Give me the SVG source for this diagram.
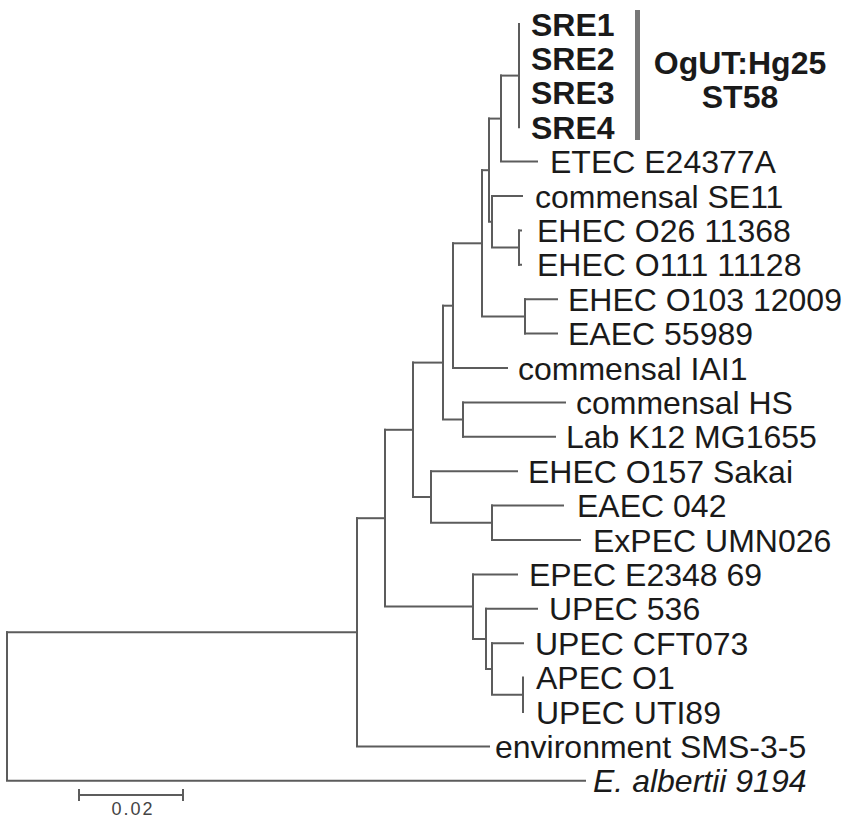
<svg xmlns="http://www.w3.org/2000/svg" width="851" height="824" viewBox="0 0 851 824">
<style>
.br{fill:none;stroke:#5c5c5c;stroke-width:2;stroke-linecap:square}
.lb{font-family:"Liberation Sans",Arial,sans-serif;font-size:32px;fill:#1a1a1a}
.bd{font-weight:bold}
.it{font-style:italic}
.sc{font-family:"Liberation Sans",Arial,sans-serif;font-size:18px;fill:#444;letter-spacing:2px}
</style>
<rect width="851" height="824" fill="#fff"/>
<g id="connectors">
<!-- SRE clade -->
<path class="br" d="M519 24V127.2"/>
<path class="br" d="M501 75.6H519"/>
<path class="br" d="M501 75.6V161.6H537"/>
<path class="br" d="M489 118.6H501"/>
<!-- SE11 / O26 / O111 -->
<path class="br" d="M519 230.4V264.8"/>
<path class="br" d="M519 230.4H521M519 264.8H521"/>
<path class="br" d="M492 196H522"/>
<path class="br" d="M492 196V247.6H519"/>
<path class="br" d="M489 118.6V221.8H492"/>
<path class="br" d="M482 170.2H489"/>
<!-- O103 / 55989 -->
<path class="br" d="M525 299.2V333.6"/>
<path class="br" d="M525 299.2H557M525 333.6H557"/>
<path class="br" d="M482 170.2V316.4H525"/>
<path class="br" d="M453 243.3H482"/>
<path class="br" d="M453 243.3V368H507"/>
<!-- HS / K12 -->
<path class="br" d="M463 402.4V436.8"/>
<path class="br" d="M463 402.4H565M463 436.8H555"/>
<path class="br" d="M443 305.7H453"/>
<path class="br" d="M443 305.7V419.6H463"/>
<!-- O157 / 042 / ExPEC -->
<path class="br" d="M492 505.6V540"/>
<path class="br" d="M492 505.6H563M492 540H580"/>
<path class="br" d="M431 471.2H517"/>
<path class="br" d="M431 471.2V522.8H492"/>
<path class="br" d="M413 362.6H443"/>
<path class="br" d="M413 362.6V497H431"/>
<!-- UPEC group -->
<path class="br" d="M523 677.6V712"/>
<path class="br" d="M492 643.2H523"/>
<path class="br" d="M492 643.2V694.8H523"/>
<path class="br" d="M486 608.8H537"/>
<path class="br" d="M486 608.8V669H492"/>
<path class="br" d="M473 574.4H517"/>
<path class="br" d="M473 574.4V638.9H486"/>
<path class="br" d="M385 429.8H413"/>
<path class="br" d="M385 429.8V606.6H473"/>
<!-- deep nodes -->
<path class="br" d="M357 518.2H385"/>
<path class="br" d="M357 518.2V746.4H489"/>
<path class="br" d="M7 632.3H357"/>
<path class="br" d="M7 632.3V780.8H585"/>
</g>
<g id="leaf-SRE1"><text class="lb bd" x="531" y="35.5">SRE1</text></g>
<g id="leaf-SRE2"><text class="lb bd" x="531" y="69.9">SRE2</text></g>
<g id="leaf-SRE3"><text class="lb bd" x="531" y="104.3">SRE3</text></g>
<g id="leaf-SRE4"><text class="lb bd" x="531" y="138.7">SRE4</text></g>
<g id="clade-OgUT">
<rect x="635" y="10" width="5" height="130" fill="#777"/>
<text class="lb bd" x="740" y="74" text-anchor="middle">OgUT:Hg25</text>
<text class="lb bd" x="740" y="108" text-anchor="middle">ST58</text>
</g>
<g id="leaf-ETEC"><text class="lb" x="550" y="173">ETEC E24377A</text></g>
<g id="leaf-SE11"><text class="lb" x="535" y="207.5">commensal SE11</text></g>
<g id="leaf-O26"><text class="lb" x="537" y="241.9">EHEC O26 11368</text></g>
<g id="leaf-O111"><text class="lb" x="537" y="276.3">EHEC O111 11128</text></g>
<g id="leaf-O103"><text class="lb" x="568" y="310.7">EHEC O103 12009</text></g>
<g id="leaf-55989"><text class="lb" x="568" y="345.1">EAEC 55989</text></g>
<g id="leaf-IAI1"><text class="lb" x="518" y="379.5">commensal IAI1</text></g>
<g id="leaf-HS"><text class="lb" x="576" y="413.9">commensal HS</text></g>
<g id="leaf-K12"><text class="lb" x="566" y="448.3">Lab K12 MG1655</text></g>
<g id="leaf-O157"><text class="lb" x="528" y="482.7">EHEC O157 Sakai</text></g>
<g id="leaf-042"><text class="lb" x="577" y="517.1">EAEC 042</text></g>
<g id="leaf-UMN026"><text class="lb" x="593" y="551.5">ExPEC UMN026</text></g>
<g id="leaf-EPEC"><text class="lb" x="529" y="585.9">EPEC E2348 69</text></g>
<g id="leaf-536"><text class="lb" x="549" y="620.3">UPEC 536</text></g>
<g id="leaf-CFT073"><text class="lb" x="535" y="654.7">UPEC CFT073</text></g>
<g id="leaf-APEC"><text class="lb" x="536" y="689.1">APEC O1</text></g>
<g id="leaf-UTI89"><text class="lb" x="536" y="723.5">UPEC UTI89</text></g>
<g id="leaf-SMS"><text class="lb" x="495" y="757.9">environment SMS-3-5</text></g>
<g id="leaf-albertii"><text class="lb it" x="593" y="792.3">E. albertii 9194</text></g>
<g id="scale-bar">
<path class="br" d="M79 795H183M79 790V800M183 790V800"/>
<text class="sc" x="133" y="815" text-anchor="middle">0.02</text>
</g>
</svg>
